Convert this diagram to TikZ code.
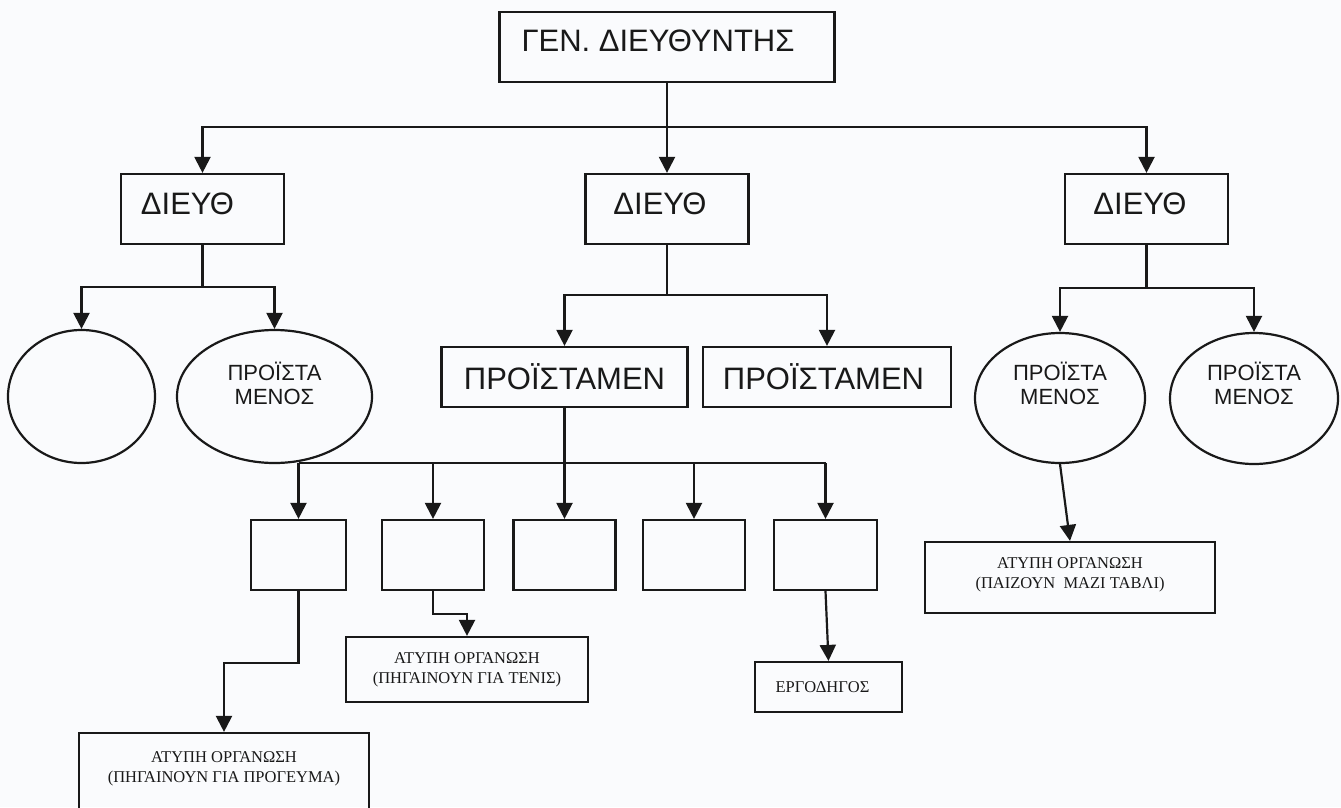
\documentclass[tikz,border=0pt]{standalone}
\usepackage{fontspec}
\setmainfont{Liberation Serif}
\setsansfont{Liberation Sans}
\colorlet{LineaOrganigrama}{black!90}
\definecolor{FondoPagina}{RGB}{250,251,253}
\usetikzlibrary{arrows.meta, shapes.geometric}
\tikzset{
    caja/.style={
        draw=LineaOrganigrama, line width=2.2pt, rectangle, inner sep=0pt,
        text=LineaOrganigrama
    },
    caja director/.style={
        caja, minimum width=163pt, minimum height=70pt, text depth=10pt,
        font=\sffamily\fontsize{31}{36}\selectfont
    },
    caja jefe/.style={
        caja, minimum height=60pt,
        font=\sffamily\fontsize{31}{36}\selectfont
    },
    caja vacia/.style={caja, minimum height=70pt},
    caja informal/.style={
        caja, align=center,
        font=\rmfamily\fontsize{16.5}{20}\selectfont
    },
    elipse/.style={
        draw=LineaOrganigrama, line width=2.2pt, ellipse, inner sep=0pt
    },
    texto elipse/.style={
        align=center, text=LineaOrganigrama,
        font=\sffamily\fontsize{22}{24}\selectfont
    },
    conector/.style={draw=LineaOrganigrama, line width=2.2pt},
    flecha/.style={conector, -{Triangle[width=16pt,length=16pt]}}
}

\begin{document}
\begin{tikzpicture}[x=1pt, y=-1pt]

% Fondo y marco de la página
\fill[FondoPagina] (0,0) rectangle (1341,807);
\useasboundingbox (0,0) rectangle (1341,807);

% Director general
\node[caja, minimum width=335pt, minimum height=70pt, text depth=12pt,
      font=\sffamily\fontsize{31}{36}\selectfont]
    (gd) at (667,47) {ΓΕΝ. ΔΙΕΥΘΥΝΤΗΣ\hspace*{18pt}};

% Direcciones
\node[caja director] (d1) at (202.5,209) {ΔΙΕΥΘ\hspace*{30pt}};
\node[caja director] (d2) at (667,209) {ΔΙΕΥΘ\hspace*{14pt}};
\node[caja director] (d3) at (1146.5,209) {ΔΙΕΥΘ\hspace*{13pt}};

% Jefaturas de cada dirección
\node[elipse, minimum width=147pt, minimum height=133pt] (e1) at (81.5,396.5) {};
\node[elipse, minimum width=195pt, minimum height=133pt] (e2) at (274.5,396.5) {};
\node[caja jefe, minimum width=246pt] (p1) at (564.5,377) {ΠΡΟΪΣΤΑΜΕΝ};
\node[caja jefe, minimum width=248pt] (p2) at (827,377) {ΠΡΟΪΣΤΑΜΕΝ\hspace*{7pt}};
\node[elipse, minimum width=170pt, minimum height=130pt] (e3) at (1060,398) {};
\node[elipse, minimum width=168pt, minimum height=131pt] (e4) at (1254,398.5) {};

\node[texto elipse] (e2t) at ([yshift=13pt]e2.center) {ΠΡΟΪΣΤΑ\\ΜΕΝΟΣ};
\node[texto elipse] (e3t) at ([yshift=15pt]e3.center) {ΠΡΟΪΣΤΑ\\ΜΕΝΟΣ};
\node[texto elipse] (e4t) at ([yshift=15pt]e4.center) {ΠΡΟΪΣΤΑ\\ΜΕΝΟΣ};

% Puestos bajo el primer jefe
\node[caja vacia, minimum width=95pt] (b1) at (298.5,555) {};
\node[caja vacia, minimum width=102pt] (b2) at (433,555) {};
\node[caja vacia, minimum width=102pt] (b3) at (564.5,555) {};
\node[caja vacia, minimum width=102pt] (b4) at (694,555) {};
\node[caja vacia, minimum width=103pt] (b5) at (825.5,555) {};

% Organización informal
\node[caja informal, minimum width=290pt, minimum height=84pt, text depth=16pt]
    (a1) at (224,775) {ΑΤΥΠΗ ΟΡΓΑΝΩΣΗ\\(ΠΗΓΑΙΝΟΥΝ ΓΙΑ ΠΡΟΓΕΥΜΑ)};
\node[caja informal, minimum width=242pt, minimum height=65pt]
    (a2) at (467,669.5) {ΑΤΥΠΗ ΟΡΓΑΝΩΣΗ\\(ΠΗΓΑΙΝΟΥΝ ΓΙΑ ΤΕΝΙΣ)};
\node[caja informal, minimum width=147pt, minimum height=50pt]
    (a3) at (828.5,687) {ΕΡΓΟΔΗΓΟΣ\hspace*{12pt}};
\node[caja informal, minimum width=290pt, minimum height=71pt, text depth=9pt]
    (a4) at (1070,577.5) {ΑΤΥΠΗ ΟΡΓΑΝΩΣΗ\\(ΠΑΙΖΟΥΝ\ \ ΜΑΖΙ ΤΑΒΛΙ)};

% Ramas del director general
\coordinate (rama0) at (667,127);
\draw[conector] (gd.south) -- (rama0);
\draw[flecha] (rama0) -| (d1.north);
\draw[flecha] (rama0) -- (d2.north);
\draw[flecha] (rama0) -| (d3.north);

% Ramas de cada dirección
\coordinate (rama1) at (202.5,287);
\draw[conector] (d1.south) -- (rama1);
\draw[flecha] (rama1) -| (e1.north);
\draw[flecha] (rama1) -| (e2.north);

\coordinate (rama2) at (667,295);
\draw[conector] (d2.south) -- (rama2);
\draw[flecha] (rama2) -| (p1.north);
\draw[flecha] (rama2) -| (p2.north);

\coordinate (rama3) at (1146.5,288);
\draw[conector] (d3.south) -- (rama3);
\draw[flecha] (rama3) -| (e3.north);
\draw[flecha] (rama3) -| (e4.north);

% Ramas del primer jefe
\coordinate (rama4) at (564.5,463);
\draw[conector] (b1.north |- rama4) -- (b5.north |- rama4);
\draw[flecha] (p1.south) -- (b3.north);
\draw[flecha] (b1.north |- rama4) -- (b1.north);
\draw[flecha] (b2.north |- rama4) -- (b2.north);
\draw[flecha] (b4.north |- rama4) -- (b4.north);
\draw[flecha] (b5.north |- rama4) -- (b5.north);

% Enlaces con la organización informal
\draw[flecha] (b1.south) -- ++(0,72) -| (a1.north);
\draw[flecha] (b2.south) -- ++(0,23) -| (a2.north);
\draw[flecha] (b5.south) -- (a3.north);
\draw[flecha] (e3.south) -- (a4.north);

\end{tikzpicture}
\end{document}
